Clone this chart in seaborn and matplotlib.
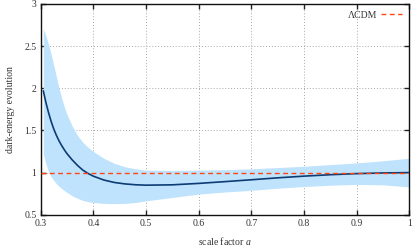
import numpy as np
import pandas as pd
import seaborn as sns
import matplotlib
matplotlib.use("Agg")
import matplotlib.pyplot as plt

# ---- data ----
scale_factor = [0.305, 0.31, 0.315, 0.32, 0.325, 0.33, 0.335, 0.34, 0.345, 0.35,
                0.36, 0.37, 0.38, 0.39, 0.40, 0.42, 0.44, 0.46, 0.48, 0.50,
                0.55, 0.60, 0.65, 0.70, 0.75, 0.80, 0.85, 0.90, 0.95, 1.00]
de_mean = [1.97, 1.83, 1.71, 1.605, 1.515, 1.44, 1.375, 1.32, 1.27, 1.225,
           1.15, 1.085, 1.03, 0.99, 0.958, 0.912, 0.883, 0.866, 0.856, 0.851,
           0.855, 0.872, 0.893, 0.915, 0.938, 0.958, 0.975, 0.988, 0.996, 1.00]
de_upper = [2.71, 2.62, 2.52, 2.40, 2.27, 2.13, 2.00, 1.88, 1.78, 1.69,
            1.55, 1.44, 1.36, 1.30, 1.25, 1.17, 1.11, 1.07, 1.045, 1.03,
            1.025, 1.03, 1.035, 1.045, 1.06, 1.075, 1.095, 1.115, 1.14, 1.17]
de_lower = [1.22, 1.10, 1.01, 0.95, 0.905, 0.868, 0.837, 0.81, 0.787, 0.765,
            0.725, 0.695, 0.67, 0.655, 0.645, 0.635, 0.632, 0.635, 0.645, 0.665,
            0.705, 0.745, 0.77, 0.79, 0.815, 0.835, 0.85, 0.86, 0.855, 0.83]
lcdm_x = [0.3, 1.0]
lcdm_y = [1.0, 1.0]
x_ticks = [0.3, 0.4, 0.5, 0.6, 0.7, 0.8, 0.9, 1.0]
x_ticklabels = ["0.3", "0.4", "0.5", "0.6", "0.7", "0.8", "0.9", "1"]
y_ticks = [0.5, 1.0, 1.5, 2.0, 2.5, 3.0]
y_ticklabels = ["0.5", "1", "1.5", "2", "2.5", "3"]

sns.set_style("ticks")
plt.rcParams["font.family"] = ["Liberation Serif", "DejaVu Serif"]
plt.rcParams["mathtext.fontset"] = "custom"
plt.rcParams["mathtext.it"] = "Liberation Serif:italic"
plt.rcParams["mathtext.rm"] = "Liberation Serif"

fig = plt.figure(figsize=(4.15, 2.48), dpi=100)
ax = fig.add_axes([0.098, 0.134, 0.888, 0.850])

df = pd.DataFrame({"a": scale_factor, "mean": de_mean,
                   "upper": de_upper, "lower": de_lower})

ax.fill_between(df["a"], df["lower"], df["upper"], color="#bfe3fd",
                linewidth=0, zorder=1)
sns.lineplot(data=df, x="a", y="mean", ax=ax, color="#0c3c74",
             linewidth=1.2, zorder=3, legend=False)
ax.plot(lcdm_x, lcdm_y, color="#ff4510", linewidth=1.0,
        dashes=(3.5, 2.5), zorder=4, label="ΛCDM")

ax.set_xlim(0.3, 1.0)
ax.set_ylim(0.5, 3.0)
ax.set_xticks(x_ticks)
ax.set_xticklabels(x_ticklabels)
ax.set_yticks(y_ticks)
ax.set_yticklabels(y_ticklabels)
ax.grid(True, color="#a8a8a8", linestyle=(0, (1, 2)), linewidth=0.7, zorder=0)
ax.set_axisbelow(True)

ax.tick_params(axis="both", which="both", direction="in", length=3.5,
               width=1.0, top=True, right=True, labelsize=7, pad=3,
               colors="#222222", labelcolor="#333333")
for s in ax.spines.values():
    s.set_linewidth(1.0)
    s.set_color("#111111")
    s.set_visible(True)

ax.set_xlabel("scale factor $a$", fontsize=7, color="#333333", labelpad=5)
ax.set_ylabel("dark-energy evolution", fontsize=7, color="#333333", labelpad=7)

leg = ax.legend(loc="upper right", frameon=False, markerfirst=False,
                fontsize=7, handlelength=2.2, handletextpad=0.4,
                borderaxespad=0.3)
for t in leg.get_texts():
    t.set_color("#333333")

fig.savefig("out.png", dpi=100)
